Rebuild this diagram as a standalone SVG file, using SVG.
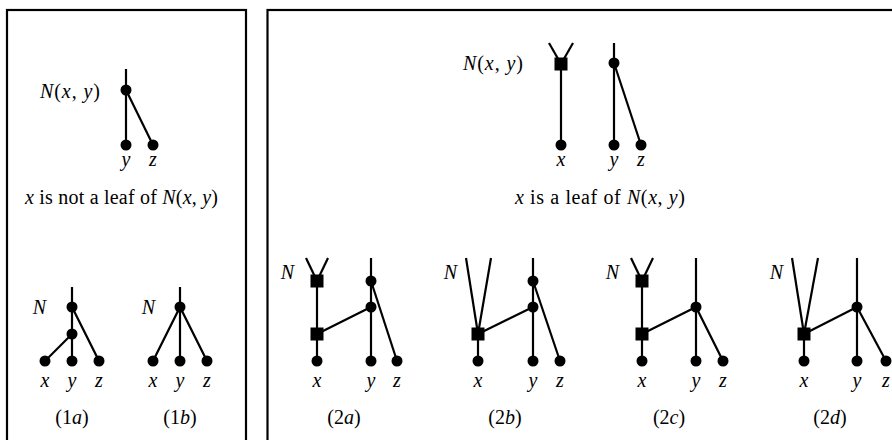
<svg xmlns="http://www.w3.org/2000/svg" width="892" height="440" viewBox="0 0 892 440">
<style>
.frame{fill:none;stroke:#000;stroke-width:2.2}
.e{stroke:#000;stroke-width:2.2;fill:none}
.dot{fill:#000}
.sq{fill:#000}
text{font-family:"Liberation Serif","DejaVu Serif",serif;font-size:20px;fill:#000}
.m{font-style:italic}
.c{text-anchor:middle}
.r{text-anchor:end}
</style>
<rect width="892" height="440" fill="#fff"/>
<g id="panels">
<rect class="frame" x="7" y="10" width="239" height="440"/>
<rect class="frame" x="267.5" y="10" width="700" height="440"/>
</g>
<g id="connectors">
<line class="e" x1="126" y1="69" x2="126" y2="145"/>
<line class="e" x1="126" y1="90" x2="153" y2="145"/>
<line class="e" x1="72" y1="287" x2="72" y2="361"/>
<line class="e" x1="72" y1="334" x2="45" y2="361"/>
<line class="e" x1="72" y1="307" x2="99" y2="361"/>
<line class="e" x1="180" y1="287" x2="180" y2="361"/>
<line class="e" x1="180" y1="307" x2="153" y2="361"/>
<line class="e" x1="180" y1="307" x2="207" y2="361"/>
<line class="e" x1="549" y1="43" x2="561" y2="64"/>
<line class="e" x1="573" y1="43" x2="561" y2="64"/>
<line class="e" x1="561" y1="64" x2="561" y2="145"/>
<line class="e" x1="614" y1="43" x2="614" y2="145"/>
<line class="e" x1="614" y1="63" x2="641" y2="145"/>
<line class="e" x1="306" y1="258" x2="317" y2="281"/>
<line class="e" x1="328" y1="258" x2="317" y2="281"/>
<line class="e" x1="317" y1="281" x2="317" y2="361"/>
<line class="e" x1="317" y1="334" x2="371" y2="307"/>
<line class="e" x1="371" y1="258" x2="371" y2="361"/>
<line class="e" x1="371" y1="281" x2="397" y2="361"/>
<line class="e" x1="466" y1="258" x2="478" y2="334"/>
<line class="e" x1="491" y1="258" x2="478" y2="334"/>
<line class="e" x1="478" y1="334" x2="478" y2="361"/>
<line class="e" x1="478" y1="334" x2="533" y2="307"/>
<line class="e" x1="533" y1="258" x2="533" y2="361"/>
<line class="e" x1="533" y1="281" x2="560" y2="361"/>
<line class="e" x1="631" y1="258" x2="642" y2="281"/>
<line class="e" x1="653" y1="258" x2="642" y2="281"/>
<line class="e" x1="642" y1="281" x2="642" y2="361"/>
<line class="e" x1="642" y1="334" x2="696" y2="307"/>
<line class="e" x1="696" y1="258" x2="696" y2="361"/>
<line class="e" x1="696" y1="307" x2="723" y2="361"/>
<line class="e" x1="792" y1="258" x2="804" y2="334"/>
<line class="e" x1="818" y1="258" x2="804" y2="334"/>
<line class="e" x1="804" y1="334" x2="804" y2="361"/>
<line class="e" x1="804" y1="334" x2="857" y2="307"/>
<line class="e" x1="857" y1="258" x2="857" y2="361"/>
<line class="e" x1="857" y1="307" x2="886" y2="361"/>
</g>
<g id="t0-root"><circle class="dot" cx="126" cy="90" r="5.5"/><text class="m" x="40" y="98" textLength="60" lengthAdjust="spacing">N<tspan font-style="normal">(</tspan>x<tspan font-style="normal">, </tspan>y<tspan font-style="normal">)</tspan></text></g>
<g id="t0-y"><circle class="dot" cx="126" cy="145" r="5.5"/><text class="m c" x="126" y="166">y</text></g>
<g id="t0-z"><circle class="dot" cx="153" cy="145" r="5.5"/><text class="m c" x="153" y="166">z</text></g>
<text x="25" y="204" textLength="193" lengthAdjust="spacing"><tspan font-style="italic">x</tspan> is not a leaf of <tspan font-style="italic">N</tspan>(<tspan font-style="italic">x</tspan>, <tspan font-style="italic">y</tspan>)</text>
<g id="a-root"><circle class="dot" cx="72" cy="307" r="5.5"/><text class="m r" x="46" y="314">N</text></g>
<g id="a-mid"><circle class="dot" cx="72" cy="334" r="5.5"/></g>
<g id="a-x"><circle class="dot" cx="45" cy="361" r="5.5"/><text class="m c" x="45" y="387">x</text></g>
<g id="a-y"><circle class="dot" cx="72" cy="361" r="5.5"/><text class="m c" x="72" y="387">y</text></g>
<g id="a-z"><circle class="dot" cx="99" cy="361" r="5.5"/><text class="m c" x="99" y="387">z</text></g>
<text class="c" x="72" y="424">(1<tspan font-style="italic">a</tspan>)</text>
<g id="b-root"><circle class="dot" cx="180" cy="307" r="5.5"/><text class="m r" x="155" y="314">N</text></g>
<g id="b-x"><circle class="dot" cx="153" cy="361" r="5.5"/><text class="m c" x="153" y="387">x</text></g>
<g id="b-y"><circle class="dot" cx="180" cy="361" r="5.5"/><text class="m c" x="180" y="387">y</text></g>
<g id="b-z"><circle class="dot" cx="207" cy="361" r="5.5"/><text class="m c" x="207" y="387">z</text></g>
<text class="c" x="180" y="424">(1<tspan font-style="italic">b</tspan>)</text>
<g id="t1-ret"><rect class="sq" x="554.5" y="57.5" width="13" height="13"/><text class="m" x="463" y="70" textLength="60" lengthAdjust="spacing">N<tspan font-style="normal">(</tspan>x<tspan font-style="normal">, </tspan>y<tspan font-style="normal">)</tspan></text></g>
<g id="t1-x"><circle class="dot" cx="561" cy="145" r="5.5"/><text class="m c" x="561" y="166">x</text></g>
<g id="t1-root"><circle class="dot" cx="614" cy="63" r="5.5"/></g>
<g id="t1-y"><circle class="dot" cx="614" cy="145" r="5.5"/><text class="m c" x="614" y="166">y</text></g>
<g id="t1-z"><circle class="dot" cx="641" cy="145" r="5.5"/><text class="m c" x="641" y="166">z</text></g>
<text x="515" y="204" textLength="170" lengthAdjust="spacing"><tspan font-style="italic">x</tspan> is a leaf of <tspan font-style="italic">N</tspan>(<tspan font-style="italic">x</tspan>, <tspan font-style="italic">y</tspan>)</text>
<g id="c2a-r1"><rect class="sq" x="310.5" y="274.5" width="13" height="13"/><text class="m r" x="294" y="279">N</text></g>
<g id="c2a-r2"><rect class="sq" x="310.5" y="327.5" width="13" height="13"/></g>
<g id="c2a-x"><circle class="dot" cx="317" cy="361" r="5.5"/><text class="m c" x="317" y="387">x</text></g>
<g id="c2a-n1"><circle class="dot" cx="371" cy="281" r="5.5"/></g>
<g id="c2a-n2"><circle class="dot" cx="371" cy="307" r="5.5"/></g>
<g id="c2a-y"><circle class="dot" cx="371" cy="361" r="5.5"/><text class="m c" x="371" y="387">y</text></g>
<g id="c2a-z"><circle class="dot" cx="397" cy="361" r="5.5"/><text class="m c" x="397" y="387">z</text></g>
<text class="c" x="344" y="424">(2<tspan font-style="italic">a</tspan>)</text>
<g id="c2b-r"><rect class="sq" x="471.5" y="327.5" width="13" height="13"/><text class="m r" x="457" y="279">N</text></g>
<g id="c2b-x"><circle class="dot" cx="478" cy="361" r="5.5"/><text class="m c" x="478" y="387">x</text></g>
<g id="c2b-n1"><circle class="dot" cx="533" cy="281" r="5.5"/></g>
<g id="c2b-n2"><circle class="dot" cx="533" cy="307" r="5.5"/></g>
<g id="c2b-y"><circle class="dot" cx="533" cy="361" r="5.5"/><text class="m c" x="533" y="387">y</text></g>
<g id="c2b-z"><circle class="dot" cx="560" cy="361" r="5.5"/><text class="m c" x="560" y="387">z</text></g>
<text class="c" x="505" y="424">(2<tspan font-style="italic">b</tspan>)</text>
<g id="c2c-r1"><rect class="sq" x="635.5" y="274.5" width="13" height="13"/><text class="m r" x="619" y="279">N</text></g>
<g id="c2c-r2"><rect class="sq" x="635.5" y="327.5" width="13" height="13"/></g>
<g id="c2c-x"><circle class="dot" cx="642" cy="361" r="5.5"/><text class="m c" x="642" y="387">x</text></g>
<g id="c2c-n"><circle class="dot" cx="696" cy="307" r="5.5"/></g>
<g id="c2c-y"><circle class="dot" cx="696" cy="361" r="5.5"/><text class="m c" x="696" y="387">y</text></g>
<g id="c2c-z"><circle class="dot" cx="723" cy="361" r="5.5"/><text class="m c" x="723" y="387">z</text></g>
<text class="c" x="669" y="424">(2<tspan font-style="italic">c</tspan>)</text>
<g id="c2d-r"><rect class="sq" x="797.5" y="327.5" width="13" height="13"/><text class="m r" x="783" y="279">N</text></g>
<g id="c2d-x"><circle class="dot" cx="804" cy="361" r="5.5"/><text class="m c" x="804" y="387">x</text></g>
<g id="c2d-n"><circle class="dot" cx="857" cy="307" r="5.5"/></g>
<g id="c2d-y"><circle class="dot" cx="857" cy="361" r="5.5"/><text class="m c" x="857" y="387">y</text></g>
<g id="c2d-z"><circle class="dot" cx="886" cy="361" r="5.5"/><text class="m c" x="886" y="387">z</text></g>
<text class="c" x="830" y="424">(2<tspan font-style="italic">d</tspan>)</text>
</svg>
